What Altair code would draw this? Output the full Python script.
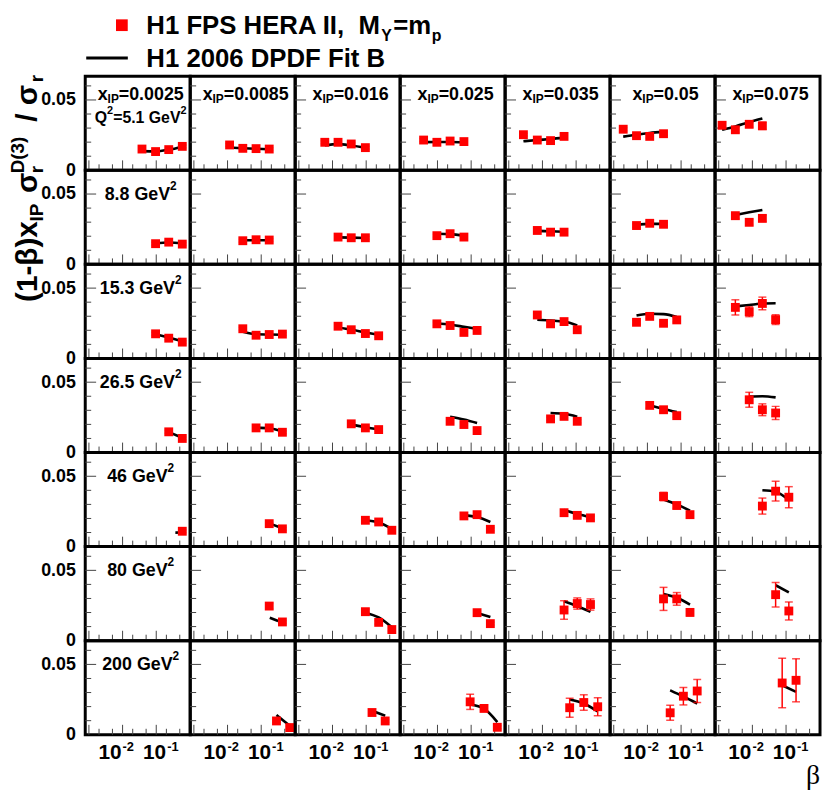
import altair as alt
import pandas as pd

# ---------------- data ----------------
XIP = ["0.0025", "0.0085", "0.016", "0.025", "0.035", "0.05", "0.075"]
Q2 = ["5.1", "8.8", "15.3", "26.5", "46", "80", "200"]

# Q2 = 5.1 GeV^2  (one list per x_IP column)
beta_q1 = [[0.0377, 0.0955, 0.235, 0.594], [0.0115, 0.0284, 0.0703, 0.173], [0.0059, 0.0146, 0.036, 0.0947],
           [0.00387, 0.0096, 0.0237, 0.061], [0.00272, 0.00703, 0.0174, 0.0438], [0.00191, 0.00474, 0.0117, 0.0301],
           [0.00126, 0.00312, 0.00805, 0.0198]]
sig_q1 = [[0.0151, 0.0133, 0.0147, 0.0170], [0.0180, 0.0156, 0.0154, 0.0151], [0.0199, 0.0199, 0.0187, 0.0161],
          [0.0215, 0.0199, 0.0208, 0.0204], [0.0253, 0.0215, 0.0211, 0.0241], [0.0292, 0.0246, 0.0241, 0.0260],
          [0.0320, 0.0288, 0.0327, 0.0316]]
err_q1 = [[0.001] * 4, [0.001] * 4, [0.001] * 4, [0.001] * 4, [0.001] * 4, [0.0012] * 4,
          [0.0022, 0.0020, 0.0022, 0.0025]]
fitb_q1 = beta_q1
fit_q1 = [[0.0136, 0.0134, 0.0146, 0.0168], [0.0162, 0.0157, 0.0153, 0.0150], [0.0178, 0.0186, 0.0176, 0.0160],
          [0.0200, 0.0201, 0.0201, 0.0199], [0.0206, 0.0215, 0.0222, 0.0232], [0.0239, 0.0253, 0.0265, 0.0275],
          [0.0288, 0.0312, 0.0342, 0.0368]]

# Q2 = 8.8 GeV^2
beta_q2 = [[0.0955, 0.235, 0.594], [0.0284, 0.0703, 0.173], [0.0146, 0.036, 0.0947], [0.0096, 0.0237, 0.061],
           [0.00703, 0.0174, 0.0438], [0.00474, 0.0117, 0.0301], [0.00312, 0.00805, 0.0198]]
sig_q2 = [[0.0147, 0.0158, 0.0144], [0.0168, 0.0175, 0.0173], [0.0194, 0.0189, 0.0189], [0.0204, 0.0218, 0.0194],
          [0.0241, 0.0229, 0.0229], [0.0276, 0.0292, 0.0285], [0.0346, 0.0299, 0.0327]]
err_q2 = [[0.001] * 3, [0.001] * 3, [0.001] * 3, [0.001] * 3, [0.001] * 3, [0.0012] * 3, [0.0022, 0.0020, 0.0022]]
fitb_q2 = beta_q2
fit_q2 = [[0.0150, 0.0155, 0.0150], [0.0172, 0.0172, 0.0171], [0.0192, 0.0190, 0.0187], [0.0218, 0.0215, 0.0205],
          [0.0238, 0.0235, 0.0232], [0.0282, 0.0288, 0.0288], [0.0351, 0.0370, 0.0387]]

# Q2 = 15.3 GeV^2
beta_q3 = [[0.0955, 0.235, 0.594], [0.0284, 0.0703, 0.173, 0.426], [0.0146, 0.036, 0.0947, 0.235],
           [0.0096, 0.0237, 0.061, 0.150], [0.00703, 0.0174, 0.0438, 0.108], [0.00474, 0.0117, 0.0301, 0.0743],
           [0.00312, 0.00805, 0.0198, 0.049]]
sig_q3 = [[0.0175, 0.0144, 0.0116], [0.0211, 0.0165, 0.0170, 0.0173], [0.0229, 0.0204, 0.0177, 0.0161],
          [0.0246, 0.0234, 0.0185, 0.0199], [0.0309, 0.0246, 0.0262, 0.0204], [0.0257, 0.0299, 0.0250, 0.0274],
          [0.0363, 0.0332, 0.0391, 0.0276]]
err_q3 = [[0.001] * 3, [0.001] * 4, [0.001] * 4, [0.0012] * 4, [0.0015] * 4, [0.0015] * 4,
          [0.0054, 0.0035, 0.0045, 0.0035]]
fitb_q3 = beta_q3
fit_q3 = [[0.0172, 0.0148, 0.0122], [0.0190, 0.0172, 0.0170, 0.0168], [0.0220, 0.0205, 0.0185, 0.0168],
          [0.0248, 0.0240, 0.0225, 0.0210], [0.0275, 0.0270, 0.0262, 0.0235], [0.0305, 0.0318, 0.0315, 0.0295],
          [0.0370, 0.0380, 0.0390, 0.0392]]

# Q2 = 26.5 GeV^2
beta_q4 = [[0.235, 0.594], [0.0703, 0.173, 0.426], [0.036, 0.0947, 0.235], [0.0237, 0.061, 0.150],
           [0.0174, 0.0438, 0.108], [0.0117, 0.0301, 0.0743], [0.00805, 0.0198, 0.049]]
sig_q4 = [[0.0147, 0.0100], [0.0175, 0.0175, 0.0144], [0.0204, 0.0175, 0.0163], [0.0222, 0.0199, 0.0156],
          [0.0239, 0.0257, 0.0222], [0.0335, 0.0304, 0.0262], [0.0375, 0.0304, 0.0281]]
err_q4 = [[0.001] * 2, [0.001] * 3, [0.001] * 3, [0.0012] * 3, [0.0012] * 3, [0.0020, 0.0018, 0.0012],
          [0.0053, 0.0042, 0.0047]]
fitb_q4 = beta_q4
fit_q4 = [[0.0145, 0.0105], [0.0177, 0.0172, 0.0150], [0.0200, 0.0180, 0.0165], [0.0255, 0.0235, 0.0210],
          [0.0281, 0.0275, 0.0255], [0.0335, 0.0310, 0.0288], [0.0398, 0.0400, 0.0392]]

# Q2 = 46 GeV^2
beta_q5 = [[0.594], [0.173, 0.426], [0.0947, 0.235, 0.578], [0.061, 0.150, 0.372], [0.0438, 0.108, 0.267],
           [0.0301, 0.0743, 0.184], [0.0198, 0.049, 0.121]]
sig_q5 = [[0.0109], [0.0163, 0.0126], [0.0187, 0.0175, 0.0116], [0.0218, 0.0227, 0.0123], [0.0241, 0.0222, 0.0204],
          [0.0356, 0.0292, 0.0227], [0.0288, 0.0394, 0.0351]]
err_q5 = [[0.001], [0.001] * 2, [0.001] * 3, [0.001] * 3, [0.0012] * 3, [0.0030, 0.0020, 0.0015],
          [0.0057, 0.0070, 0.0075]]
fitb_q5 = [[0.37, 0.55], [0.173, 0.426], [0.0947, 0.235, 0.578], [0.061, 0.150, 0.372], [0.0438, 0.108, 0.267],
           [0.0301, 0.0743, 0.184], [0.0198, 0.049, 0.121]]
fit_q5 = [[0.0099, 0.0100], [0.0165, 0.0130], [0.0185, 0.0172, 0.0125], [0.0222, 0.0210, 0.0175],
          [0.0260, 0.0232, 0.0210], [0.0335, 0.0300, 0.0255], [0.0400, 0.0390, 0.0330]]

# Q2 = 80 GeV^2
beta_q6 = [[], [0.173, 0.426], [0.0947, 0.235, 0.578], [0.150, 0.372], [0.0438, 0.108, 0.267],
           [0.0301, 0.0743, 0.184], [0.049, 0.121]]
sig_q6 = [[], [0.0246, 0.0133], [0.0206, 0.0130, 0.0079], [0.0199, 0.0121], [0.0218, 0.0264, 0.0257],
          [0.0297, 0.0297, 0.0201], [0.0327, 0.0211]]
err_q6 = [[], [0.0020, 0.001], [0.0018, 0.0012, 0.001], [0.001, 0.001], [0.0066, 0.0040, 0.0040],
          [0.0082, 0.0045, 0.0025], [0.0087, 0.0064]]
fitb_q6 = [[], [0.18, 0.318], [0.0947, 0.235, 0.578], [0.150, 0.372], [0.0438, 0.108, 0.267],
           [0.0301, 0.0743, 0.184], [0.049, 0.121]]
fit_q6 = [[], [0.0163, 0.0140], [0.0199, 0.0165, 0.0095], [0.0197, 0.0168], [0.0280, 0.0245, 0.0205],
          [0.0332, 0.0305, 0.0257], [0.0394, 0.0344]]

# Q2 = 200 GeV^2
beta_q7 = [[], [0.284, 0.703], [0.149, 0.367], [0.0934, 0.241, 0.598], [0.0644, 0.169, 0.438],
           [0.0474, 0.117, 0.301], [0.0767, 0.198]]
sig_q7 = [[], [0.0098, 0.0051], [0.0158, 0.0098], [0.0234, 0.0187, 0.0053], [0.0192, 0.0229, 0.0199],
          [0.0156, 0.0274, 0.0311], [0.0368, 0.0387]]
err_q7 = [[], [0.001, 0.001], [0.0020, 0.001], [0.0054, 0.0015, 0.001], [0.0068, 0.0055, 0.0064],
          [0.0053, 0.0062, 0.0082], [0.0176, 0.0153]]
fitb_q7 = beta_q7
fit_q7 = [[], [0.0140, 0.0063], [0.0170, 0.0135], [0.0215, 0.0185, 0.0090], [0.0250, 0.0222, 0.0165],
          [0.0316, 0.0272, 0.0222], [0.0352, 0.0305]]

BETAS = [beta_q1, beta_q2, beta_q3, beta_q4, beta_q5, beta_q6, beta_q7]
SIGS = [sig_q1, sig_q2, sig_q3, sig_q4, sig_q5, sig_q6, sig_q7]
ERRS = [err_q1, err_q2, err_q3, err_q4, err_q5, err_q6, err_q7]
FITBS = [fitb_q1, fitb_q2, fitb_q3, fitb_q4, fitb_q5, fitb_q6, fitb_q7]
FITS = [fit_q1, fit_q2, fit_q3, fit_q4, fit_q5, fit_q6, fit_q7]

# axis ticks
XT_MINOR = [0.002, 0.005, 0.02, 0.05, 0.2, 0.5]
XT_MAJOR = [0.001, 0.01, 0.1]
YT_MINOR = [0.01, 0.02, 0.03, 0.04, 0.06]
YT_MAJOR = [0.05]
XLAB_VALS = [0.01, 0.1]
XLAB_EXP = ["-2", "-1"]

# ---------------- styling ----------------
FONT = "Liberation Sans"
RED = "#ff0000"
TICKC = "#444444"
W, H = 106, 95
XDOM = [0.000778, 1.0205]
YMAX = 0.0669
XLAB_DX = [-1, 10]

CW = {'0': .556, '1': .556, '2': .556, '3': .556, '4': .556, '5': .556, '6': .556, '7': .556, '8': .556,
      '9': .556, '.': .278, '=': .584, ' ': .278, 'x': .556, 'I': .278, 'P': .667, 'Q': .778, 'G': .778,
      'e': .556, 'V': .667, '-': .333}


def tw(s, fs):
    return sum(CW.get(ch, 0.6) for ch in s) * fs


def piece(t, x, y, fs, angle=0, align="left", font=FONT, weight="bold"):
    return alt.Chart(alt.Data(values=[{"t": t}])).mark_text(
        align=align, baseline="alphabetic", fontSize=fs, font=font, fontWeight=weight,
        color="black", angle=angle
    ).encode(text="t:N", x=alt.value(x), y=alt.value(y))


def panel(r, c):
    xs = alt.Scale(type="log", domain=XDOM, nice=False)
    ys = alt.Scale(domain=[0, YMAX], nice=False, zero=False)
    if c == 0:
        yax = alt.Axis(values=[0, 0.05], format=".2~f", ticks=False, domain=False, grid=False,
                       labelPadding=10, labelFont=FONT, labelFontSize=18, labelFontWeight="bold",
                       labelColor="black", labelFlush=False, labelOverlap=False)
    else:
        yax = None

    def X(f):
        return alt.X(f, scale=xs, axis=None, title=None)

    def Y(f):
        return alt.Y(f, scale=ys, axis=yax, title=None)

    layers = [
        alt.Chart(pd.DataFrame({"b": XT_MINOR})).mark_rule(color=TICKC, strokeWidth=1).encode(
            x=X("b:Q"), y=alt.value(H), y2=alt.value(H - 6)),
        alt.Chart(pd.DataFrame({"b": XT_MAJOR})).mark_rule(color=TICKC, strokeWidth=1).encode(
            x=X("b:Q"), y=alt.value(H), y2=alt.value(H - 10)),
        alt.Chart(pd.DataFrame({"v": YT_MINOR})).mark_rule(color=TICKC, strokeWidth=1).encode(
            y=Y("v:Q"), x=alt.value(0), x2=alt.value(6)),
        alt.Chart(pd.DataFrame({"v": YT_MAJOR})).mark_rule(color=TICKC, strokeWidth=1).encode(
            y=Y("v:Q"), x=alt.value(0), x2=alt.value(11)),
    ]
    b = BETAS[r][c]
    if len(b) > 0:
        s = SIGS[r][c]
        e = ERRS[r][c]
        df = pd.DataFrame({"beta": b, "sig": s,
                           "lo": [v - d for v, d in zip(s, e)], "hi": [v + d for v, d in zip(s, e)]})
        fit = pd.DataFrame({"beta": FITBS[r][c], "fit": FITS[r][c]})
        layers += [
            alt.Chart(fit).mark_line(color="black", strokeWidth=2.6, interpolate="monotone").encode(
                x=X("beta:Q"), y=Y("fit:Q")),
            alt.Chart(df).mark_rule(color=RED, strokeWidth=1.5).encode(
                x=X("beta:Q"), y=Y("lo:Q"), y2="hi:Q"),
            alt.Chart(df).mark_tick(color=RED, orient="horizontal", size=8, thickness=1.5).encode(
                x=X("beta:Q"), y=Y("lo:Q")),
            alt.Chart(df).mark_tick(color=RED, orient="horizontal", size=8, thickness=1.5).encode(
                x=X("beta:Q"), y=Y("hi:Q")),
            alt.Chart(df).mark_square(color=RED, size=80, opacity=1).encode(
                x=X("beta:Q"), y=Y("sig:Q")),
        ]
    # x_IP labels (top row)
    if r == 0:
        lab = "=" + XIP[c]
        tot = tw("x", 18) + tw("IP", 12) + tw(lab, 18)
        s0 = 56 - tot / 2
        layers += [piece("x", s0, 24, 18),
                   piece("IP", s0 + tw("x", 18), 27.5, 12),
                   piece(lab, s0 + tw("x", 18) + tw("IP", 12), 24, 18)]
    # Q2 labels (first column)
    if c == 0:
        if r == 0:
            fs, fsu = 16, 11
            mid = "=" + Q2[0] + " GeV"
            tot = tw("Q", fs) + tw("2", fsu) + tw(mid, fs) + tw("2", fsu)
            s0 = 56 - tot / 2
            x1 = s0 + tw("Q", fs)
            x2 = x1 + tw("2", fsu)
            x3 = x2 + tw(mid, fs)
            layers += [piece("Q", s0, 47, fs), piece("2", x1, 38, fsu),
                       piece(mid, x2, 47, fs), piece("2", x3, 38, fsu)]
        else:
            fs, fsu = 18, 12
            mid = Q2[r] + " GeV"
            tot = tw(mid, fs) + tw("2", fsu)
            s0 = 56 - tot / 2
            layers += [piece(mid, s0, 30, fs), piece("2", s0 + tw(mid, fs), 20, fsu)]
    # x axis labels (bottom row)
    if r == 6:
        for val, ex, ddx in zip(XLAB_VALS, XLAB_EXP, XLAB_DX):
            lab = pd.DataFrame({"b": [val], "e": [ex], "t": ["10"]})
            layers += [
                alt.Chart(lab).mark_text(align="right", baseline="alphabetic", fontSize=21, font=FONT,
                                         fontWeight="bold", color="black", dx=ddx).encode(
                    x=X("b:Q"), y=alt.value(H + 25), text="t:N"),
                alt.Chart(lab).mark_text(align="left", baseline="alphabetic", fontSize=13, font=FONT,
                                         fontWeight="bold", color="black", dx=ddx + 1).encode(
                    x=X("b:Q"), y=alt.value(H + 16), text="e:N"),
            ]
        if c == 6:
            layers.append(piece("β", 106, 145, 28, align="right", font="Liberation Serif", weight="normal"))
    return alt.layer(*layers).properties(
        width=W, height=H, view=alt.ViewBackground(stroke="black", strokeWidth=3))


panels = [panel(r, c) for r in range(7) for c in range(7)]
grid = alt.concat(*panels, columns=7, spacing=0, bounds="flush")

# ---------------- header (legend) ----------------
LEG_DATA = "H1 FPS HERA II,"
LEG_FIT = "H1 2006 DPDF Fit B"
header = alt.layer(
    alt.Chart(alt.Data(values=[{"k": LEG_DATA}])).mark_square(color=RED, size=140, opacity=1).encode(
        x=alt.value(37), y=alt.value(12.5)),
    piece(LEG_DATA, 61.7, 21.5, 26),
    piece("M", 276, 21.5, 26),
    piece("Y", 299, 28, 16),
    piece("=m", 311, 21.5, 26),
    piece("p", 350, 28, 16),
    alt.Chart(alt.Data(values=[{"k": LEG_FIT}])).mark_rule(color="black", strokeWidth=3).encode(
        x=alt.value(1), x2=alt.value(43), y=alt.value(45.7)),
    piece(LEG_FIT, 61.7, 54.5, 26),
).properties(width=742, height=64, view=alt.ViewBackground(stroke="transparent"))

# ---------------- y title ----------------
BX = 28
ytitle = alt.layer(
    piece("(1-β)x", BX, 292, 30, angle=270),
    piece("IP", BX + 6, 210.7, 19, angle=270),
    piece("σ", BX, 182, 30, angle=270),
    piece("r", BX + 6, 162, 19, angle=270),
    piece("D(3)", BX - 13, 162, 19, angle=270),
    piece("/ σ", BX, 110, 30, angle=270),
    piece("r", BX + 6, 70, 19, angle=270),
).properties(width=77, height=729, view=alt.ViewBackground(stroke="transparent"))

chart = alt.hconcat(
    ytitle,
    alt.vconcat(header, grid, spacing=0, bounds="flush"),
    spacing=0, bounds="flush", padding=0,
).configure_view(stroke="transparent")

chart.save("out.html", embed_options={"renderer": "svg", "actions": False})
